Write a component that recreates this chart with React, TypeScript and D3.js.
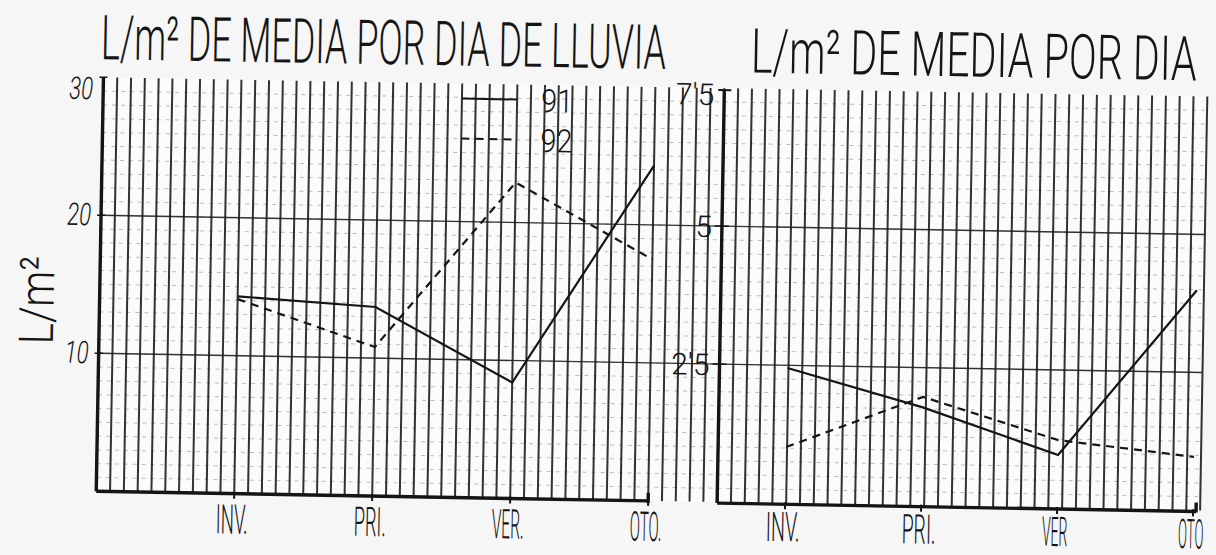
import React from "react";
import * as d3 from "d3";

// ---- data ----
const seasonsLeft = ["INV.", "PRI.", "VER.", "OTO."];
const seasonsRight = ["INV.", "PRI.", "VER", "OTO"];
const rain91 = [14.3, 13.7, 8.4, 24.3];
const rain92 = [14.1, 10.8, 22.9, 17.5];
const daily91 = [2.45, 1.78, 0.96, 3.99];
const daily92 = [1.02, 1.97, 1.23, 0.97];
const leftTicks = [10, 20, 30];
const leftTickLabels = ["10", "20", "30"];
const rightTicks = [2.5, 5, 7.5];
const rightTickLabels = ["2'5", "5", "7'5"];
const legendLabels = ["91", "92"];
const titleLeft = "L/m² DE MEDIA POR DIA DE LLUVIA";
const titleRight = "L/m² DE MEDIA POR DIA";
const yAxisTitle = "L/m²";

const FONT = "Roboto, 'DejaVu Sans Condensed', sans-serif";

export default function App() {
  const top = 86;
  const bottom = 500;
  const yL = d3.scaleLinear().domain([0, 30]).range([bottom, top]);
  const yR = d3.scaleLinear().domain([0, 7.5]).range([bottom, top]);
  const xL = d3.scaleLinear().domain([0, 4]).range([100, 652]);
  const xR = d3.scaleLinear().domain([0, 4]).range([721, 1265]);
  const step = 13.8;
  const vx = d3.range(100, 1206, step);
  const hy = d3.range(bottom - step, top, -step);

  const lineL = d3
    .line<number>()
    .x((_, i) => xL(i + 1))
    .y((d) => yL(d));
  const lineR = d3
    .line<number>()
    .x((_, i) => xR(i + 0.5))
    .y((d) => yR(d));

  const ink = "#151515";

  return (
    <svg
      width={1216}
      height={555}
      style={{ position: "absolute", left: 0, top: 0, background: "#f6f6f6" }}
    >
      <rect x={0} y={0} width={1216} height={555} fill="#f6f6f6" />
      <g transform="rotate(1 600 280)">
        <rect x={100} y={top} width={1104} height={bottom - top} fill="#fbfbfb" />
        {/* minor horizontal grid */}
        {hy.map((y, i) => (
          <line
            key={"h" + i}
            x1={100}
            x2={1204}
            y1={y}
            y2={y}
            stroke="#8a8a8a"
            strokeOpacity={0.55}
            strokeWidth={1}
            strokeDasharray="4 5"
          />
        ))}
        {/* major horizontal grid */}
        {leftTicks.slice(0, 2).map((t, i) => (
          <line
            key={"H" + i}
            x1={100}
            x2={1204}
            y1={yL(t)}
            y2={yL(t)}
            stroke="#333"
            strokeWidth={1.4}
          />
        ))}
        {/* vertical graph-paper lines */}
        {vx.map((x, i) => (
          <line
            key={"v" + i}
            x1={x}
            x2={x}
            y1={top}
            y2={bottom}
            stroke="#1c1c1c"
            strokeOpacity={0.9}
            strokeWidth={2}
          />
        ))}

        {/* axes left */}
        <line x1={100} x2={100} y1={top} y2={bottom} stroke={ink} strokeWidth={3.4} />
        <line x1={100} x2={652} y1={bottom} y2={bottom} stroke={ink} strokeWidth={3.4} />
        <line x1={652} x2={652} y1={bottom - 8} y2={bottom + 2} stroke={ink} strokeWidth={3.4} />
        {seasonsLeft.map((s, i) => (
          <line key={"tl" + i} x1={xL(i + 1)} x2={xL(i + 1)} y1={bottom - 2} y2={bottom + 5} stroke={ink} strokeWidth={2} />
        ))}
        {leftTicks.map((t, i) => (
          <line key={"ytl" + i} x1={96} x2={104} y1={yL(t)} y2={yL(t)} stroke={ink} strokeWidth={1.5} />
        ))}

        {/* axes right */}
        <line x1={721} x2={721} y1={top + 2} y2={bottom + 1} stroke={ink} strokeWidth={3.4} />
        <line x1={715} x2={728} y1={top + 2} y2={top + 2} stroke={ink} strokeWidth={2} />
        <line x1={721} x2={1200} y1={bottom + 1} y2={bottom + 1} stroke={ink} strokeWidth={3.4} />
        <line x1={1200} x2={1200} y1={bottom - 8} y2={bottom + 2} stroke={ink} strokeWidth={3.4} />
        {seasonsRight.map((s, i) => (
          <line key={"tr" + i} x1={xR(i + 0.5)} x2={xR(i + 0.5)} y1={bottom - 1} y2={bottom + 6} stroke={ink} strokeWidth={2} />
        ))}
        {rightTicks.slice(0, 2).map((t, i) => (
          <line key={"ytr" + i} x1={714} x2={728} y1={yR(t)} y2={yR(t)} stroke={ink} strokeWidth={1.5} />
        ))}

        {/* data lines */}
        <path d={lineL(rain91) || ""} fill="none" stroke={ink} strokeWidth={2.2} />
        <path d={lineL(rain92) || ""} fill="none" stroke={ink} strokeWidth={2.2} strokeDasharray="8 6" />
        <path d={lineR(daily91) || ""} fill="none" stroke={ink} strokeWidth={2.2} />
        <path d={lineR(daily92) || ""} fill="none" stroke={ink} strokeWidth={2.2} strokeDasharray="8 6" />

        {/* legend */}
        {legendLabels.map((l, i) => (
          <g key={"lg" + i}>
            <line
              x1={459}
              x2={514}
              y1={101 + i * 40}
              y2={101 + i * 40}
              stroke={ink}
              strokeWidth={2}
              strokeDasharray={i === 0 ? undefined : "8 6"}
            />
            <text
              x={538}
              y={113 + i * 40}
              fontFamily={FONT}
              fontWeight={300}
              fontSize={32}
              fill={ink}
              textLength={32}
              lengthAdjust="spacingAndGlyphs"
            >
              {l}
            </text>
          </g>
        ))}

        {/* titles */}
        <text
          x={97}
          y={68}
          fontFamily={FONT}
          fontWeight={300}
          fontSize={62}
          fill={ink}
          textLength={565}
          lengthAdjust="spacingAndGlyphs"
        >
          {titleLeft}
        </text>
        <text
          x={747}
          y={70}
          fontFamily={FONT}
          fontWeight={300}
          fontSize={62}
          fill={ink}
          textLength={446}
          lengthAdjust="spacingAndGlyphs"
        >
          {titleRight}
        </text>

        {/* y tick labels */}
        {leftTicks.map((t, i) => (
          <text
            key={"yl" + i}
            x={90}
            y={Math.max(yL(t), top + 12) + 10}
            textAnchor="end"
            fontFamily={FONT}
            fontStyle="italic"
            fontWeight={300}
            fontSize={31}
            fill={ink}
            textLength={24}
            lengthAdjust="spacingAndGlyphs"
          >
            {leftTickLabels[i]}
          </text>
        ))}
        {rightTicks.map((t, i) => (
          <text
            key={"yr" + i}
            x={711}
            y={Math.max(yR(t), top + 6) + 11}
            textAnchor="end"
            fontFamily={FONT}
            fontWeight={300}
            fontSize={30}
            fill={ink}
          >
            {rightTickLabels[i]}
          </text>
        ))}
        <text
          transform="translate(54 310) rotate(-90)"
          textAnchor="middle"
          fontFamily={FONT}
          fontWeight={300}
          fontSize={48}
          fill={ink}
          textLength={88}
          lengthAdjust="spacingAndGlyphs"
        >
          {yAxisTitle}
        </text>

        {/* x labels */}
        {seasonsLeft.map((s, i) => (
          <text
            key={"xl" + i}
            x={xL(i + 1) - 2}
            y={540}
            textAnchor="middle"
            fontFamily={FONT}
            fontWeight={300}
            fontSize={41}
            fill={ink}
            textLength={s.length * 8}
            lengthAdjust="spacingAndGlyphs"
          >
            {s}
          </text>
        ))}
        {seasonsRight.map((s, i) => (
          <text
            key={"xr" + i}
            x={xR(i + 0.5) - 2}
            y={538}
            textAnchor="middle"
            fontFamily={FONT}
            fontWeight={300}
            fontSize={41}
            fill={ink}
            textLength={s.length * 8.5}
            lengthAdjust="spacingAndGlyphs"
          >
            {s}
          </text>
        ))}
      </g>
    </svg>
  );
}
